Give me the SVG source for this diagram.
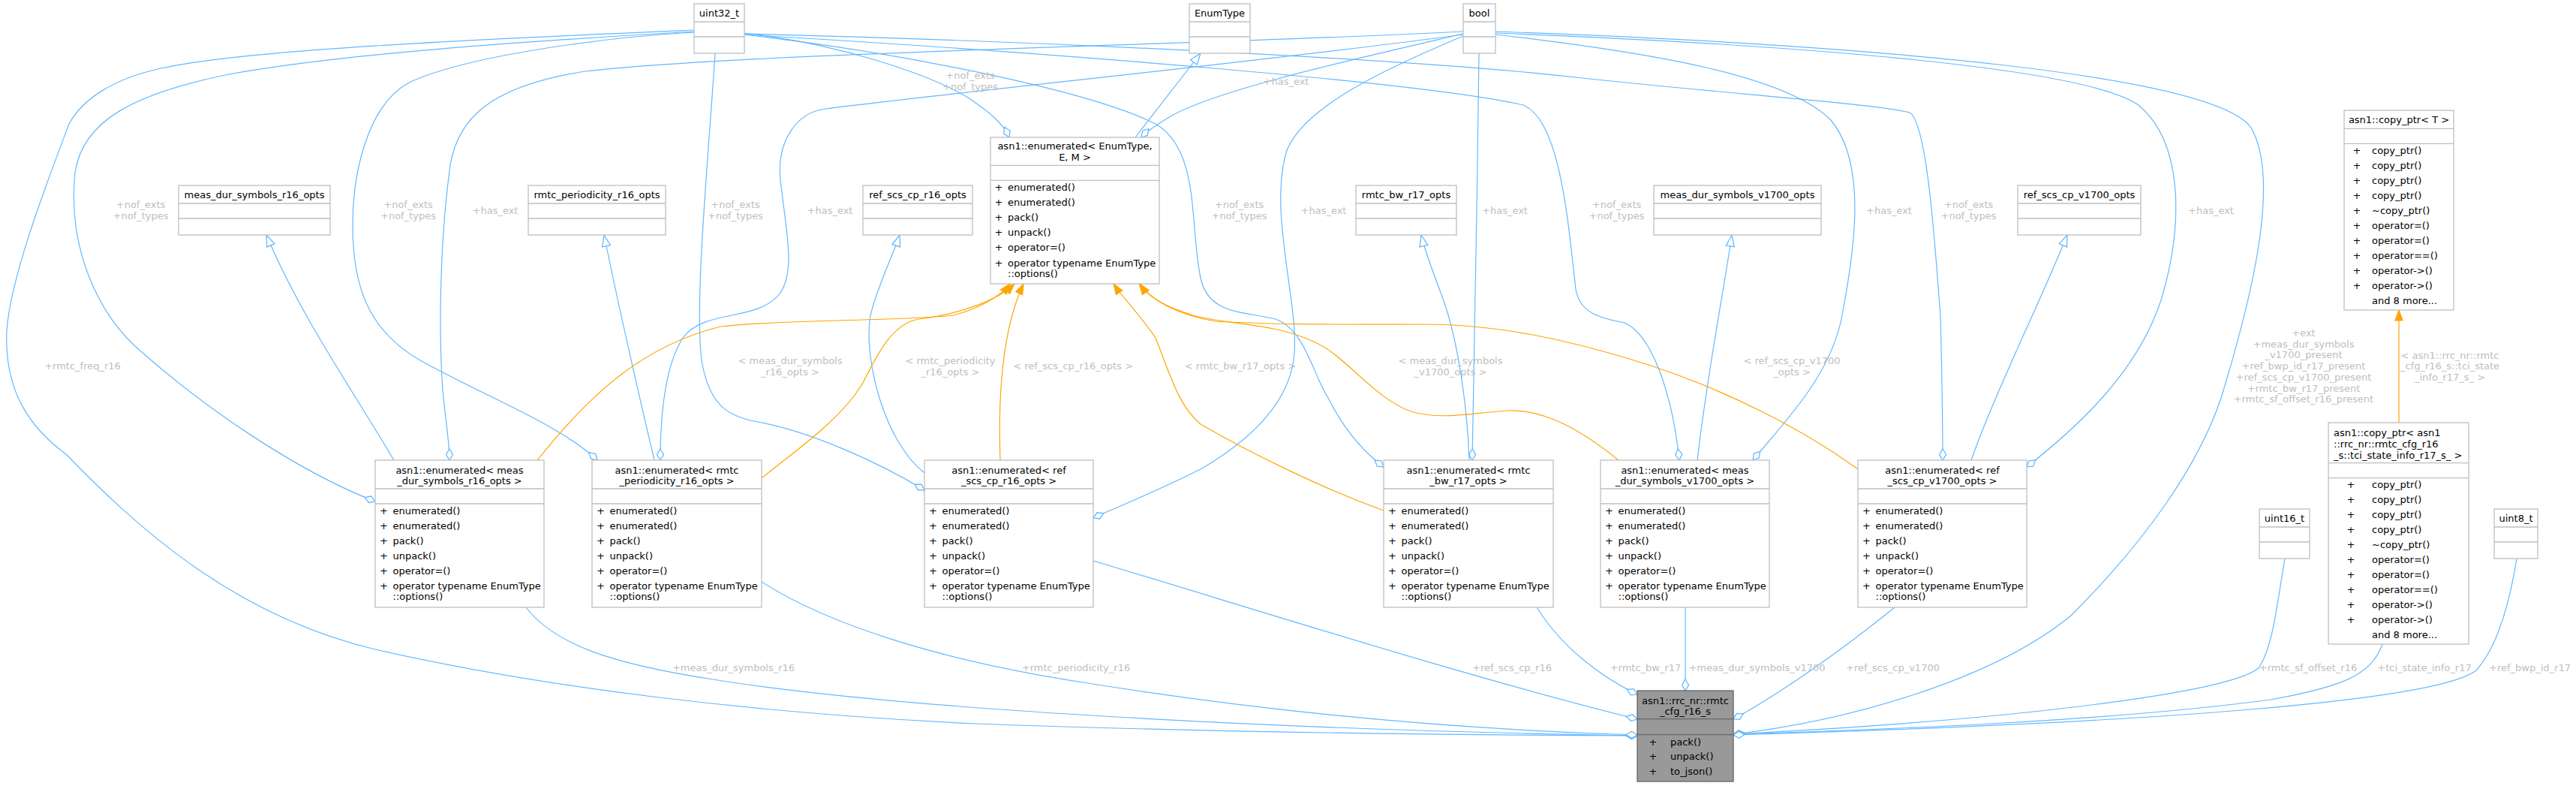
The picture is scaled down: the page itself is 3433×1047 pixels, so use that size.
<svg xmlns="http://www.w3.org/2000/svg" width="3433" height="1047" viewBox="0 0 3433 1047">
<style>
text{font-family:"DejaVu Sans",sans-serif;font-size:13px;fill:#000}
.c{text-anchor:middle}
.l{fill:#bebebe;text-anchor:middle}
.n rect{fill:#fff;stroke:#bfbfbf;stroke-width:1.3}
.n line{stroke:#bfbfbf;stroke-width:1.3}
.m rect{fill:#999;stroke:#666;stroke-width:1.3}
.m line{stroke:#666;stroke-width:1.3}
.e{fill:none;stroke:#63b8ff;stroke-width:1.2;marker-end:url(#dia)}
.i{fill:none;stroke:#63b8ff;stroke-width:1.2;marker-end:url(#tri)}
.o{fill:none;stroke:#ffa500;stroke-width:1.2;marker-end:url(#arr)}
</style>
<defs>
<marker id="dia" viewBox="-2 -6 19 12" refX="15" refY="0" markerWidth="19" markerHeight="12" markerUnits="userSpaceOnUse" orient="auto"><path d="M0,0 L7.5,-4.5 L15,0 L7.5,4.5 Z" fill="#fff" stroke="#63b8ff" stroke-width="1.3"/></marker>
<marker id="tri" viewBox="-2 -7 19 14" refX="15" refY="0" markerWidth="19" markerHeight="14" markerUnits="userSpaceOnUse" orient="auto"><path d="M0,-5.5 L15,0 L0,5.5 Z" fill="#fff" stroke="#63b8ff" stroke-width="1.3"/></marker>
<marker id="arr" viewBox="-2 -7 18 14" refX="14" refY="0" markerWidth="18" markerHeight="14" markerUnits="userSpaceOnUse" orient="auto"><path d="M0,-5 L14,0 L0,5 Z" fill="#ffa500" stroke="#ffa500" stroke-width="1.2"/></marker>
</defs>
<rect width="3433" height="1047" fill="#fff"/>
<g id="edges">
<path class="e" d="M925,40 C650,52 320,66 210,92 C150,106 110,132 92,165 C60,250 14,370 9,440 C5,520 40,570 88,605 C180,700 310,820 500,865 C720,915 1000,950 1300,964 C1600,975 1900,979 2182,980"/>
<path class="e" d="M925,42 C700,55 450,72 300,100 C180,125 110,160 100,230 C90,330 130,420 190,470 C270,540 390,625 500,668"/>
<path class="e" d="M925,43 C800,50 620,75 545,110 C490,140 470,230 470,300 C470,380 490,440 560,480 C650,530 745,565 796,613"/>
<path class="e" d="M953,71 C945,200 925,400 935,480 C945,540 970,555 1010,562 C1080,575 1170,615 1232,653"/>
<path class="e" d="M991,44 C1120,58 1240,100 1290,130 C1320,150 1337,165 1345,183"/>
<path class="e" d="M991,46 C1200,70 1450,120 1540,165 C1600,200 1585,300 1600,370 C1610,420 1660,415 1700,425 C1740,440 1750,500 1770,530 C1790,570 1815,600 1844,622"/>
<path class="e" d="M991,46 C1400,70 1900,110 2030,140 C2080,160 2090,300 2100,385 C2105,420 2140,425 2165,430 C2200,445 2228,520 2238,613"/>
<path class="e" d="M991,45 C1400,55 1900,80 2100,103 C2300,125 2500,138 2545,150 C2570,165 2580,350 2586,420 C2588,500 2589,560 2589,613"/>
<path class="e" d="M1950,45 C1800,80 1620,120 1560,155 C1540,167 1528,175 1521,183"/>
<path class="e" d="M1950,42 C1600,60 1000,70 780,95 C650,115 610,160 600,220 C585,330 585,450 590,520 C595,570 599,590 599,613"/>
<path class="e" d="M1950,46 C1700,80 1300,120 1100,145 C1060,150 1035,190 1040,240 C1048,310 1060,360 1040,390 C1010,430 940,410 910,450 C885,490 880,560 880,613"/>
<path class="e" d="M1950,48 C1850,90 1740,140 1715,200 C1690,280 1730,400 1725,470 C1720,540 1660,590 1600,625 C1540,655 1490,675 1457,690"/>
<path class="e" d="M1971,71 C1969,250 1965,450 1962,613"/>
<path class="e" d="M1993,46 C2200,70 2380,100 2440,160 C2490,220 2470,340 2455,420 C2440,500 2380,560 2336,613"/>
<path class="e" d="M1993,44 C2400,60 2780,90 2850,140 C2910,190 2910,300 2880,400 C2850,490 2780,560 2701,622"/>
<path class="e" d="M1993,42 C2500,60 2950,100 3000,170 C3040,240 3000,400 2960,530 C2930,620 2860,720 2760,820 C2650,910 2450,962 2310,978"/>
<path class="e" d="M701,809 C740,860 820,885 950,905 C1200,945 1700,972 2182,980"/>
<path class="e" d="M1015,775 C1100,830 1250,880 1450,910 C1700,950 1950,972 2182,979"/>
<path class="e" d="M1457,747 C1700,820 1950,900 2182,958"/>
<path class="e" d="M2048,809 C2080,860 2130,900 2182,925"/>
<path class="e" d="M2246,809 L2246,920"/>
<path class="e" d="M2525,809 C2450,870 2370,925 2310,958"/>
<path class="e" d="M3045,744 C3035,800 3030,860 3010,890 C2970,922 2700,958 2310,978"/>
<path class="e" d="M3175,858 C3160,900 3120,915 3026,932 C2800,962 2500,972 2310,978"/>
<path class="e" d="M3354,744 C3345,800 3330,860 3300,893 C3250,932 2900,962 2310,979"/>
<path class="i" d="M525,613 C470,520 400,420 355,313"/>
<path class="i" d="M872,613 C850,520 825,410 805,313"/>
<path class="i" d="M1232,630 C1180,590 1150,480 1160,420 C1170,380 1190,340 1199,313"/>
<path class="i" d="M1958,613 C1955,530 1940,440 1920,390 C1905,350 1898,330 1894,313"/>
<path class="i" d="M2262,613 C2275,500 2295,400 2308,313"/>
<path class="i" d="M2627,613 C2660,520 2720,400 2755,313"/>
<path class="i" d="M1513,183 L1600,71"/>
<path class="o" d="M716,613 C790,520 860,460 960,435 C1050,425 1200,428 1270,420 C1310,410 1335,392 1346,378"/>
<path class="o" d="M1015,637 C1060,600 1120,560 1150,510 C1170,470 1190,430 1225,425 C1280,418 1330,400 1352,378"/>
<path class="o" d="M1333,613 C1330,530 1335,440 1364,378"/>
<path class="o" d="M1844,680 C1760,650 1660,600 1600,565 C1570,540 1560,500 1540,450 C1520,420 1495,395 1484,378"/>
<path class="o" d="M2157,613 C2110,575 2060,545 2010,547 C1960,550 1920,560 1880,548 C1830,530 1790,470 1750,455 C1700,430 1630,432 1590,420 C1550,408 1530,395 1519,378"/>
<path class="o" d="M2476,625 C2400,570 2300,520 2200,487 C2100,455 2000,432 1900,432 C1800,432 1700,433 1620,428 C1570,420 1535,400 1518,378"/>
<path class="o" d="M3197,563 L3197,413"/>
<text class="l" x="187.5" y="277">+nof_exts</text><text class="l" x="187.5" y="291.5">+nof_types</text>
<text class="l" x="544" y="277">+nof_exts</text><text class="l" x="544" y="291.5">+nof_types</text>
<text class="l" x="660" y="284.5">+has_ext</text>
<text class="l" x="980" y="277">+nof_exts</text><text class="l" x="980" y="291.5">+nof_types</text>
<text class="l" x="1106" y="284.5">+has_ext</text>
<text class="l" x="1293" y="104.5">+nof_exts</text><text class="l" x="1293" y="119.5">+nof_types</text>
<text class="l" x="1714" y="113">+has_ext</text>
<text class="l" x="1651.5" y="277">+nof_exts</text><text class="l" x="1651.5" y="291.5">+nof_types</text>
<text class="l" x="1764" y="284.5">+has_ext</text>
<text class="l" x="2005.5" y="284.5">+has_ext</text>
<text class="l" x="2154.5" y="277">+nof_exts</text><text class="l" x="2154.5" y="291.5">+nof_types</text>
<text class="l" x="2517.5" y="284.5">+has_ext</text>
<text class="l" x="2623.5" y="277">+nof_exts</text><text class="l" x="2623.5" y="291.5">+nof_types</text>
<text class="l" x="2946.5" y="284.5">+has_ext</text>
<text class="l" x="110" y="492">+rmtc_freq_r16</text>
<text class="l" x="1053" y="485">&lt; meas_dur_symbols</text><text class="l" x="1053" y="499.5">_r16_opts &gt;</text>
<text class="l" x="1266.5" y="485">&lt; rmtc_periodicity</text><text class="l" x="1266.5" y="499.5">_r16_opts &gt;</text>
<text class="l" x="1430" y="492">&lt; ref_scs_cp_r16_opts &gt;</text>
<text class="l" x="1653" y="492">&lt; rmtc_bw_r17_opts &gt;</text>
<text class="l" x="1933" y="485">&lt; meas_dur_symbols</text><text class="l" x="1933" y="499.5">_v1700_opts &gt;</text>
<text class="l" x="2388" y="485">&lt; ref_scs_cp_v1700</text><text class="l" x="2388" y="499.5">_opts &gt;</text>
<text class="l" x="3070" y="448">+ext</text>
<text class="l" x="3070" y="462.7">+meas_dur_symbols</text>
<text class="l" x="3070" y="477.4">_v1700_present</text>
<text class="l" x="3070" y="492.1">+ref_bwp_id_r17_present</text>
<text class="l" x="3070" y="506.8">+ref_scs_cp_v1700_present</text>
<text class="l" x="3070" y="521.5">+rmtc_bw_r17_present</text>
<text class="l" x="3070" y="536.2">+rmtc_sf_offset_r16_present</text>
<text class="l" x="3265" y="477.5">&lt; asn1::rrc_nr::rmtc</text><text class="l" x="3265" y="492.2">_cfg_r16_s::tci_state</text><text class="l" x="3265" y="506.9">_info_r17_s_ &gt;</text>
<text class="l" x="977.5" y="893.5">+meas_dur_symbols_r16</text>
<text class="l" x="1434" y="893.5">+rmtc_periodicity_r16</text>
<text class="l" x="2015" y="893.5">+ref_scs_cp_r16</text>
<text class="l" x="2193" y="893.5">+rmtc_bw_r17</text>
<text class="l" x="2341.5" y="893.5">+meas_dur_symbols_v1700</text>
<text class="l" x="2522.5" y="893.5">+ref_scs_cp_v1700</text>
<text class="l" x="3076" y="893.5">+rmtc_sf_offset_r16</text>
<text class="l" x="3231" y="893.5">+tci_state_info_r17</text>
<text class="l" x="3371.5" y="893.5">+ref_bwp_id_r17</text>
</g>
<g id="uint32_t" class="n"><rect x="925" y="5" width="67" height="66"/><line x1="925" y1="29" x2="992" y2="29"/><line x1="925" y1="49" x2="992" y2="49"/><text class="c" x="958.5" y="22">uint32_t</text></g>
<g id="EnumType" class="n"><rect x="1585" y="5" width="81" height="66"/><line x1="1585" y1="29" x2="1666" y2="29"/><line x1="1585" y1="49" x2="1666" y2="49"/><text class="c" x="1625.5" y="22">EnumType</text></g>
<g id="bool" class="n"><rect x="1950" y="5" width="43" height="66"/><line x1="1950" y1="29" x2="1993" y2="29"/><line x1="1950" y1="49" x2="1993" y2="49"/><text class="c" x="1971.5" y="22">bool</text></g>
<g id="meas_dur_symbols_r16_opts" class="n"><rect x="238" y="247" width="202" height="66"/><line x1="238" y1="271" x2="440" y2="271"/><line x1="238" y1="291" x2="440" y2="291"/><text class="c" x="339" y="264">meas_dur_symbols_r16_opts</text></g>
<g id="rmtc_periodicity_r16_opts" class="n"><rect x="704" y="247" width="183" height="66"/><line x1="704" y1="271" x2="887" y2="271"/><line x1="704" y1="291" x2="887" y2="291"/><text class="c" x="795.5" y="264">rmtc_periodicity_r16_opts</text></g>
<g id="ref_scs_cp_r16_opts" class="n"><rect x="1150" y="247" width="146" height="66"/><line x1="1150" y1="271" x2="1296" y2="271"/><line x1="1150" y1="291" x2="1296" y2="291"/><text class="c" x="1223" y="264">ref_scs_cp_r16_opts</text></g>
<g id="rmtc_bw_r17_opts" class="n"><rect x="1807" y="247" width="134" height="66"/><line x1="1807" y1="271" x2="1941" y2="271"/><line x1="1807" y1="291" x2="1941" y2="291"/><text class="c" x="1874" y="264">rmtc_bw_r17_opts</text></g>
<g id="meas_dur_symbols_v1700_opts" class="n"><rect x="2204" y="247" width="223" height="66"/><line x1="2204" y1="271" x2="2427" y2="271"/><line x1="2204" y1="291" x2="2427" y2="291"/><text class="c" x="2315.5" y="264">meas_dur_symbols_v1700_opts</text></g>
<g id="ref_scs_cp_v1700_opts" class="n"><rect x="2689" y="247" width="164" height="66"/><line x1="2689" y1="271" x2="2853" y2="271"/><line x1="2689" y1="291" x2="2853" y2="291"/><text class="c" x="2771" y="264">ref_scs_cp_v1700_opts</text></g>
<g id="uint16_t" class="n"><rect x="3011" y="678" width="67" height="66"/><line x1="3011" y1="702" x2="3078" y2="702"/><line x1="3011" y1="722" x2="3078" y2="722"/><text class="c" x="3044.5" y="695">uint16_t</text></g>
<g id="uint8_t" class="n"><rect x="3324" y="678" width="58" height="66"/><line x1="3324" y1="702" x2="3382" y2="702"/><line x1="3324" y1="722" x2="3382" y2="722"/><text class="c" x="3353" y="695">uint8_t</text></g>
<g id="enumerated_EnumType" class="n"><rect x="1320" y="183" width="225" height="195"/><line x1="1320" y1="220.3" x2="1545" y2="220.3"/><line x1="1320" y1="240.3" x2="1545" y2="240.3"/>
<text class="c" x="1432.5" y="199.2">asn1::enumerated&lt; EnumType,</text><text class="c" x="1432.5" y="213.8">E, M &gt;</text>
<text x="1325.5" y="253.8">+</text><text x="1343" y="253.8">enumerated()</text>
<text x="1325.5" y="273.8">+</text><text x="1343" y="273.8">enumerated()</text>
<text x="1325.5" y="293.8">+</text><text x="1343" y="293.8">pack()</text>
<text x="1325.5" y="313.8">+</text><text x="1343" y="313.8">unpack()</text>
<text x="1325.5" y="333.8">+</text><text x="1343" y="333.8">operator=()</text>
<text x="1325.5" y="354.5">+</text><text x="1343" y="354.5">operator typename EnumType</text><text x="1343" y="369.2">::options()</text></g>
<g id="enumerated_meas_dur_symbols_r16" class="n"><rect x="500" y="613" width="225" height="196"/><line x1="500" y1="651" x2="725" y2="651"/><line x1="500" y1="671" x2="725" y2="671"/>
<text class="c" x="612.5" y="630.5">asn1::enumerated&lt; meas</text><text class="c" x="612.5" y="645.2">_dur_symbols_r16_opts &gt;</text>
<text x="506" y="684.5">+</text><text x="523.5" y="684.5">enumerated()</text>
<text x="506" y="704.5">+</text><text x="523.5" y="704.5">enumerated()</text>
<text x="506" y="724.5">+</text><text x="523.5" y="724.5">pack()</text>
<text x="506" y="744.5">+</text><text x="523.5" y="744.5">unpack()</text>
<text x="506" y="764.5">+</text><text x="523.5" y="764.5">operator=()</text>
<text x="506" y="785.2">+</text><text x="523.5" y="785.2">operator typename EnumType</text><text x="523.5" y="799.2">::options()</text></g>
<g id="enumerated_rmtc_periodicity_r16" class="n"><rect x="789" y="613" width="226" height="196"/><line x1="789" y1="651" x2="1015" y2="651"/><line x1="789" y1="671" x2="1015" y2="671"/>
<text class="c" x="902" y="630.5">asn1::enumerated&lt; rmtc</text><text class="c" x="902" y="645.2">_periodicity_r16_opts &gt;</text>
<text x="795" y="684.5">+</text><text x="812.5" y="684.5">enumerated()</text>
<text x="795" y="704.5">+</text><text x="812.5" y="704.5">enumerated()</text>
<text x="795" y="724.5">+</text><text x="812.5" y="724.5">pack()</text>
<text x="795" y="744.5">+</text><text x="812.5" y="744.5">unpack()</text>
<text x="795" y="764.5">+</text><text x="812.5" y="764.5">operator=()</text>
<text x="795" y="785.2">+</text><text x="812.5" y="785.2">operator typename EnumType</text><text x="812.5" y="799.2">::options()</text></g>
<g id="enumerated_ref_scs_cp_r16" class="n"><rect x="1232" y="613" width="225" height="196"/><line x1="1232" y1="651" x2="1457" y2="651"/><line x1="1232" y1="671" x2="1457" y2="671"/>
<text class="c" x="1344.5" y="630.5">asn1::enumerated&lt; ref</text><text class="c" x="1344.5" y="645.2">_scs_cp_r16_opts &gt;</text>
<text x="1238" y="684.5">+</text><text x="1255.5" y="684.5">enumerated()</text>
<text x="1238" y="704.5">+</text><text x="1255.5" y="704.5">enumerated()</text>
<text x="1238" y="724.5">+</text><text x="1255.5" y="724.5">pack()</text>
<text x="1238" y="744.5">+</text><text x="1255.5" y="744.5">unpack()</text>
<text x="1238" y="764.5">+</text><text x="1255.5" y="764.5">operator=()</text>
<text x="1238" y="785.2">+</text><text x="1255.5" y="785.2">operator typename EnumType</text><text x="1255.5" y="799.2">::options()</text></g>
<g id="enumerated_rmtc_bw_r17" class="n"><rect x="1844" y="613" width="226" height="196"/><line x1="1844" y1="651" x2="2070" y2="651"/><line x1="1844" y1="671" x2="2070" y2="671"/>
<text class="c" x="1957" y="630.5">asn1::enumerated&lt; rmtc</text><text class="c" x="1957" y="645.2">_bw_r17_opts &gt;</text>
<text x="1850" y="684.5">+</text><text x="1867.5" y="684.5">enumerated()</text>
<text x="1850" y="704.5">+</text><text x="1867.5" y="704.5">enumerated()</text>
<text x="1850" y="724.5">+</text><text x="1867.5" y="724.5">pack()</text>
<text x="1850" y="744.5">+</text><text x="1867.5" y="744.5">unpack()</text>
<text x="1850" y="764.5">+</text><text x="1867.5" y="764.5">operator=()</text>
<text x="1850" y="785.2">+</text><text x="1867.5" y="785.2">operator typename EnumType</text><text x="1867.5" y="799.2">::options()</text></g>
<g id="enumerated_meas_dur_symbols_v1700" class="n"><rect x="2133" y="613" width="225" height="196"/><line x1="2133" y1="651" x2="2358" y2="651"/><line x1="2133" y1="671" x2="2358" y2="671"/>
<text class="c" x="2245.5" y="630.5">asn1::enumerated&lt; meas</text><text class="c" x="2245.5" y="645.2">_dur_symbols_v1700_opts &gt;</text>
<text x="2139" y="684.5">+</text><text x="2156.5" y="684.5">enumerated()</text>
<text x="2139" y="704.5">+</text><text x="2156.5" y="704.5">enumerated()</text>
<text x="2139" y="724.5">+</text><text x="2156.5" y="724.5">pack()</text>
<text x="2139" y="744.5">+</text><text x="2156.5" y="744.5">unpack()</text>
<text x="2139" y="764.5">+</text><text x="2156.5" y="764.5">operator=()</text>
<text x="2139" y="785.2">+</text><text x="2156.5" y="785.2">operator typename EnumType</text><text x="2156.5" y="799.2">::options()</text></g>
<g id="enumerated_ref_scs_cp_v1700" class="n"><rect x="2476" y="613" width="225" height="196"/><line x1="2476" y1="651" x2="2701" y2="651"/><line x1="2476" y1="671" x2="2701" y2="671"/>
<text class="c" x="2588.5" y="630.5">asn1::enumerated&lt; ref</text><text class="c" x="2588.5" y="645.2">_scs_cp_v1700_opts &gt;</text>
<text x="2482" y="684.5">+</text><text x="2499.5" y="684.5">enumerated()</text>
<text x="2482" y="704.5">+</text><text x="2499.5" y="704.5">enumerated()</text>
<text x="2482" y="724.5">+</text><text x="2499.5" y="724.5">pack()</text>
<text x="2482" y="744.5">+</text><text x="2499.5" y="744.5">unpack()</text>
<text x="2482" y="764.5">+</text><text x="2499.5" y="764.5">operator=()</text>
<text x="2482" y="785.2">+</text><text x="2499.5" y="785.2">operator typename EnumType</text><text x="2499.5" y="799.2">::options()</text></g>
<g id="copy_ptr_T" class="n"><rect x="3124" y="147" width="146" height="266"/><line x1="3124" y1="171.3" x2="3270" y2="171.3"/><line x1="3124" y1="191.3" x2="3270" y2="191.3"/>
<text class="c" x="3197" y="164">asn1::copy_ptr&lt; T &gt;</text>
<text x="3135.5" y="205.3">+</text><text x="3161" y="205.3">copy_ptr()</text>
<text x="3135.5" y="225.3">+</text><text x="3161" y="225.3">copy_ptr()</text>
<text x="3135.5" y="245.3">+</text><text x="3161" y="245.3">copy_ptr()</text>
<text x="3135.5" y="265.3">+</text><text x="3161" y="265.3">copy_ptr()</text>
<text x="3135.5" y="285.3">+</text><text x="3161" y="285.3">~copy_ptr()</text>
<text x="3135.5" y="305.3">+</text><text x="3161" y="305.3">operator=()</text>
<text x="3135.5" y="325.3">+</text><text x="3161" y="325.3">operator=()</text>
<text x="3135.5" y="345.3">+</text><text x="3161" y="345.3">operator==()</text>
<text x="3135.5" y="365.3">+</text><text x="3161" y="365.3">operator-&gt;()</text>
<text x="3135.5" y="385.3">+</text><text x="3161" y="385.3">operator-&gt;()</text>
<text x="3161" y="405.3">and 8 more...</text></g>
<g id="copy_ptr_tci_state_info" class="n"><rect x="3103" y="563" width="187" height="295"/><line x1="3103" y1="616.7" x2="3290" y2="616.7"/><line x1="3103" y1="636.7" x2="3290" y2="636.7"/>
<text x="3110" y="581.2">asn1::copy_ptr&lt; asn1</text><text x="3110" y="595.9">::rrc_nr::rmtc_cfg_r16</text><text x="3110" y="610.6">_s::tci_state_info_r17_s_ &gt;</text>
<text x="3127.5" y="650.3">+</text><text x="3161" y="650.3">copy_ptr()</text>
<text x="3127.5" y="670.3">+</text><text x="3161" y="670.3">copy_ptr()</text>
<text x="3127.5" y="690.3">+</text><text x="3161" y="690.3">copy_ptr()</text>
<text x="3127.5" y="710.3">+</text><text x="3161" y="710.3">copy_ptr()</text>
<text x="3127.5" y="730.3">+</text><text x="3161" y="730.3">~copy_ptr()</text>
<text x="3127.5" y="750.3">+</text><text x="3161" y="750.3">operator=()</text>
<text x="3127.5" y="770.3">+</text><text x="3161" y="770.3">operator=()</text>
<text x="3127.5" y="790.3">+</text><text x="3161" y="790.3">operator==()</text>
<text x="3127.5" y="810.3">+</text><text x="3161" y="810.3">operator-&gt;()</text>
<text x="3127.5" y="830.3">+</text><text x="3161" y="830.3">operator-&gt;()</text>
<text x="3161" y="850.3">and 8 more...</text></g>
<g id="rmtc_cfg_r16_s" class="m"><rect x="2182" y="920" width="128" height="121"/><line x1="2182" y1="957.7" x2="2310" y2="957.7"/><line x1="2182" y1="978.7" x2="2310" y2="978.7"/>
<text class="c" x="2246" y="937.8">asn1::rrc_nr::rmtc</text><text class="c" x="2246" y="952.3">_cfg_r16_s</text>
<text x="2197.5" y="992.8">+</text><text x="2226" y="992.8">pack()</text>
<text x="2197.5" y="1012.4">+</text><text x="2226" y="1012.4">unpack()</text>
<text x="2197.5" y="1032">+</text><text x="2226" y="1032">to_json()</text></g>
</svg>
